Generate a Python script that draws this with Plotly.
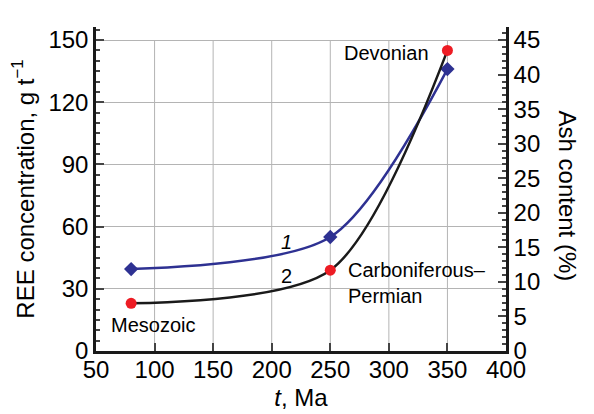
import plotly.graph_objects as go

# Data
age_ma = [80, 250, 350]
ree_conc = [39.5, 55, 136]          # curve 1 (blue), g/t
ash_content_left = [23, 39, 145]    # curve 2 (black, red dots) in left-axis units
period_labels = ["Mesozoic", "Carboniferous–<br>Permian", "Devonian"]
label_x = [99, 263, 298]
label_y = [12.5, 33, 144]
label_anchor = ["center", "left", "center"]
curve_num_x = [213, 213]
curve_num_y = [52.5, 36]
curve_nums = ["<i>1</i>", "2"]

x_ticks = [50, 100, 150, 200, 250, 300, 350, 400]
y_left_ticks = [0, 30, 60, 90, 120, 150]
y_right_ticks = [0, 5, 10, 15, 20, 25, 30, 35, 40, 45]

YMAX = 156.3
FONT = "Liberation Sans, Arial, sans-serif"
BLUE = "#2e3192"
RED = "#ed1c24"

fig = go.Figure()

fig.add_trace(go.Scatter(
    x=age_ma, y=ree_conc, mode="lines+markers",
    line=dict(color=BLUE, width=2.5, shape="spline", smoothing=0.8),
    marker=dict(symbol="diamond", size=11, color=BLUE),
    showlegend=False, cliponaxis=False))

fig.add_trace(go.Scatter(
    x=age_ma, y=ash_content_left, mode="lines",
    line=dict(color="#1a1a1a", width=2.5, shape="spline", smoothing=0.8),
    showlegend=False, cliponaxis=False))
fig.add_trace(go.Scatter(
    x=age_ma, y=ash_content_left, mode="markers",
    marker=dict(symbol="circle", size=11, color=RED),
    showlegend=False, cliponaxis=False))

# invisible trace for right axis
fig.add_trace(go.Scatter(x=[None], y=[None], yaxis="y2", showlegend=False))

# vertical gridlines up to 150 only
shapes = []
for xv in x_ticks[1:-1]:
    shapes.append(dict(type="line", xref="x", yref="y", x0=xv, x1=xv, y0=0, y1=150,
                       line=dict(color="#b4b4b4", width=1), layer="below"))

annotations = []
for t, xx, yy, anc in zip(period_labels, label_x, label_y, label_anchor):
    annotations.append(dict(x=xx, y=yy, xref="x", yref="y", text=t, showarrow=False,
                            xanchor=anc, yanchor="middle", align="left",
                            font=dict(family=FONT, size=20, color="black")))
for t, xx, yy in zip(curve_nums, curve_num_x, curve_num_y):
    annotations.append(dict(x=xx, y=yy, xref="x", yref="y", text=t, showarrow=False,
                            font=dict(family=FONT, size=20, color="black")))
annotations.append(dict(x=1, y=(150 / YMAX) / 2, xref="paper", yref="paper",
                        text="Ash content (%)", textangle=90, showarrow=False,
                        xanchor="center", yanchor="middle", xshift=61,
                        font=dict(family=FONT, size=24, color="black")))

fig.update_layout(
    width=594, height=414,
    margin=dict(l=96, r=88, t=27, b=63, autoexpand=False),
    paper_bgcolor="white", plot_bgcolor="white",
    font=dict(family=FONT, size=24, color="black"),
    shapes=shapes, annotations=annotations,
    xaxis=dict(range=[50, 400], tickvals=x_ticks, ticks="inside", ticklen=8, tickwidth=2,
               showline=True, linewidth=2.5, linecolor="#1a1a1a", showgrid=False,
               zeroline=False, tickfont=dict(size=24), automargin=False,
               ticklabelstandoff=-5,
               title=dict(text="<i>t</i>, Ma", standoff=8, font=dict(size=24))),
    yaxis=dict(range=[0, YMAX], tickvals=y_left_ticks, ticks="inside", ticklen=8, tickwidth=2,
               showline=True, linewidth=2.5, linecolor="#1a1a1a", automargin=False,
               showgrid=True, gridcolor="#b4b4b4", gridwidth=1, zeroline=False,
               minor=dict(dtick=5, tick0=0, ticks="inside", ticklen=4, tickwidth=1.5,
                          showgrid=False),
               tickfont=dict(size=24),
               title=dict(text="REE concentration, g t<sup>−1</sup>", standoff=8,
                          font=dict(size=24))),
    yaxis2=dict(range=[0, 45 * YMAX / 150], overlaying="y", side="right",
                anchor="x", tickvals=y_right_ticks, ticks="inside", ticklen=8, tickwidth=2,
                showline=True, linewidth=2.5, linecolor="#1a1a1a", showgrid=False,
                zeroline=False, automargin=False,
                minor=dict(dtick=1, tick0=0, ticks="inside", ticklen=4, tickwidth=1.5,
                           showgrid=False),
                tickfont=dict(size=24)),
)

fig.write_html("out.html")
